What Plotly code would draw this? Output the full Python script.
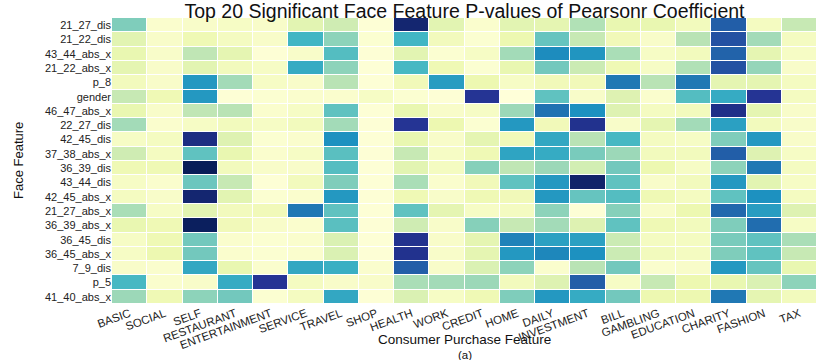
import plotly.graph_objects as go

consumer_features = ["BASIC", "SOCIAL", "SELF", "RESTAURANT", "ENTERTAINMENT", "SERVICE",
                     "TRAVEL", "SHOP", "HEALTH", "WORK", "CREDIT", "HOME", "DAILY",
                     "INVESTMENT", "BILL", "GAMBLING", "EDUCATION", "CHARITY", "FASHION", "TAX"]

face_features = ["21_27_dis", "21_22_dis", "43_44_abs_x", "21_22_abs_x", "p_8", "gender",
                 "46_47_abs_x", "22_27_dis", "42_45_dis", "37_38_abs_x", "36_39_dis",
                 "43_44_dis", "42_45_abs_x", "21_27_abs_x", "36_39_abs_x", "36_45_dis",
                 "36_45_abs_x", "7_9_dis", "p_5", "41_40_abs_x"]

# significance level per cell (row = face feature, column = consumer feature)
significance = [
    [3.0, 0.3, 0.4, 0.5, 0.4, 1.3, 1.8, 0.1, 7.6, 1.3, 0.3, 1.3, 1.2, 2.3, 1.1, 1.1, 0.7, 6.0, 0.6, 2.0],
    [1.3, 0.4, 0.9, 0.6, 0.4, 4.0, 2.8, 0.2, 4.0, 0.7, 0.2, 1.0, 3.4, 2.0, 0.8, 0.4, 2.2, 6.3, 2.5, 0.6],
    [1.1, 0.4, 2.1, 1.2, 0.1, 0.4, 3.7, 0.1, 1.3, 0.2, 0.5, 2.5, 5.1, 4.9, 2.4, 0.5, 0.7, 5.9, 1.2, 0.5],
    [1.2, 0.4, 1.3, 0.7, 0.5, 4.3, 2.8, 0.1, 3.9, 0.9, 0.2, 1.1, 3.2, 1.9, 0.9, 0.5, 2.3, 6.3, 2.7, 0.4],
    [0.7, 0.4, 4.8, 2.5, 0.5, 0.4, 2.2, 0.1, 0.8, 4.7, 1.0, 0.5, 0.8, 0.8, 5.5, 2.2, 5.5, 1.2, 1.2, 0.6],
    [2.0, 0.9, 4.8, 0.1, 0.2, 0.3, 0.3, 0.5, 0.2, 0.1, 7.0, 0.0, 3.5, 0.4, 1.4, 0.3, 3.7, 4.3, 7.0, 0.6],
    [1.1, 0.4, 2.1, 2.2, 0.3, 0.5, 3.5, 0.1, 1.1, 0.4, 0.5, 2.6, 5.6, 5.0, 1.4, 0.6, 0.7, 7.2, 1.2, 0.4],
    [2.5, 0.3, 0.5, 0.7, 0.5, 0.7, 2.5, 0.1, 7.0, 1.0, 0.2, 4.8, 0.8, 7.1, 0.4, 1.2, 2.5, 4.6, 0.7, 0.4],
    [0.5, 0.6, 7.3, 1.4, 0.2, 0.3, 5.0, 0.1, 1.1, 0.4, 1.2, 0.8, 4.4, 2.2, 3.9, 0.6, 0.5, 3.0, 4.8, 0.4],
    [1.8, 0.6, 3.5, 1.1, 0.3, 0.5, 3.6, 0.1, 2.0, 0.5, 0.9, 4.5, 4.3, 3.1, 2.6, 0.7, 0.7, 6.0, 1.4, 0.5],
    [0.9, 0.9, 8.0, 0.7, 0.4, 0.4, 3.7, 0.1, 1.3, 0.6, 2.9, 2.1, 2.6, 1.7, 3.2, 1.0, 0.5, 2.8, 5.5, 0.6],
    [0.5, 0.3, 3.3, 2.0, 0.1, 0.7, 3.0, 0.1, 2.4, 0.3, 0.8, 3.5, 4.8, 7.7, 3.5, 0.4, 0.7, 4.8, 1.3, 0.5],
    [0.6, 0.4, 7.6, 1.3, 0.2, 0.3, 4.8, 0.1, 0.9, 0.4, 0.9, 0.8, 4.8, 3.4, 3.7, 0.9, 0.6, 3.5, 5.0, 0.6],
    [2.4, 0.5, 1.3, 0.7, 0.8, 5.5, 3.5, 0.1, 3.5, 1.2, 0.5, 0.6, 2.8, 0.1, 2.9, 0.4, 1.0, 5.8, 4.7, 1.4],
    [1.1, 0.9, 7.9, 0.8, 0.4, 0.3, 3.6, 0.1, 1.8, 0.4, 2.9, 2.0, 2.5, 1.4, 3.5, 0.9, 0.7, 3.0, 5.7, 0.5],
    [0.5, 0.9, 3.2, 0.3, 0.2, 0.3, 1.5, 0.1, 7.1, 0.4, 1.2, 5.3, 4.6, 4.6, 1.9, 0.6, 0.6, 3.1, 3.5, 2.4],
    [0.5, 1.0, 3.2, 0.3, 0.2, 0.3, 1.5, 0.1, 7.1, 0.4, 1.2, 4.8, 5.2, 5.0, 1.9, 0.7, 0.6, 3.0, 3.5, 2.0],
    [0.4, 0.3, 4.4, 1.1, 0.3, 4.4, 4.2, 0.3, 6.0, 0.4, 1.5, 2.8, 0.3, 2.2, 3.2, 0.3, 0.4, 4.8, 3.4, 1.1],
    [3.9, 0.3, 0.4, 4.3, 7.0, 0.6, 0.4, 0.4, 2.4, 2.5, 2.6, 0.7, 1.4, 6.0, 0.5, 2.0, 1.0, 1.1, 1.5, 2.8],
    [2.6, 0.9, 2.8, 3.2, 0.2, 0.6, 4.4, 0.1, 1.5, 0.5, 0.9, 3.0, 4.8, 4.3, 3.2, 1.0, 1.0, 5.5, 1.2, 0.7],
]

ylgnbu = ["#ffffd9", "#edf8b1", "#c7e9b4", "#7fcdbb", "#41b6c4",
          "#1d91c0", "#225ea8", "#253494", "#081d58"]
colorscale = [[i / 8, c] for i, c in enumerate(ylgnbu)]

FONT = "Liberation Sans, Arial, sans-serif"

W, H = 830, 360
ML, MR, MT, MB = 112, 13, 18, 56
PLOT_H = H - MT - MB
PLOT_W = W - ML - MR

fig = go.Figure(go.Heatmap(
    z=significance, x=consumer_features, y=face_features,
    colorscale=colorscale, zmin=0, zmax=8, showscale=False,
    xgap=1, ygap=1,
))

fig.update_layout(
    width=W, height=H,
    margin=dict(l=ML, r=MR, t=MT, b=MB, autoexpand=False),
    paper_bgcolor="white", plot_bgcolor="white",
    font=dict(family=FONT, color="#222222"),
    title=dict(text="Top 20 Significant Face Feature P-values of Pearsonr Coefficient",
               x=0.5, xref="paper", xanchor="center",
               y=1 - 11 / H, yref="container", yanchor="middle",
               font=dict(size=19.5, family=FONT, color="#111111")),
    xaxis=dict(tickangle=-20, tickfont=dict(size=11.5), showgrid=False, zeroline=False,
               ticks="", automargin=False, showline=False),
    yaxis=dict(autorange="reversed", tickfont=dict(size=11), showgrid=False,
               zeroline=False, ticks="", automargin=False, showline=False),
    annotations=[
        dict(text="Consumer Purchase Feature", xref="paper", yref="paper",
             x=0.5, y=-(339.5 - (H - MB)) / PLOT_H, xanchor="center", yanchor="middle",
             showarrow=False, borderpad=0,
             font=dict(size=13.5, family=FONT, color="#111111")),
        dict(text="(a)", xref="paper", yref="paper",
             x=0.5, y=-(354.5 - (H - MB)) / PLOT_H, xanchor="center", yanchor="middle",
             showarrow=False, borderpad=0,
             font=dict(size=11.5, family=FONT, color="#111111")),
        dict(text="Face Feature", xref="paper", yref="paper",
             x=-(ML - 18) / PLOT_W, y=0.5, xanchor="center", yanchor="middle",
             textangle=-90, showarrow=False,
             font=dict(size=13, family=FONT, color="#111111")),
    ],
)

fig.write_html("out.html", config={"displayModeBar": False},
               post_script="document.body.style.margin='0px';")
